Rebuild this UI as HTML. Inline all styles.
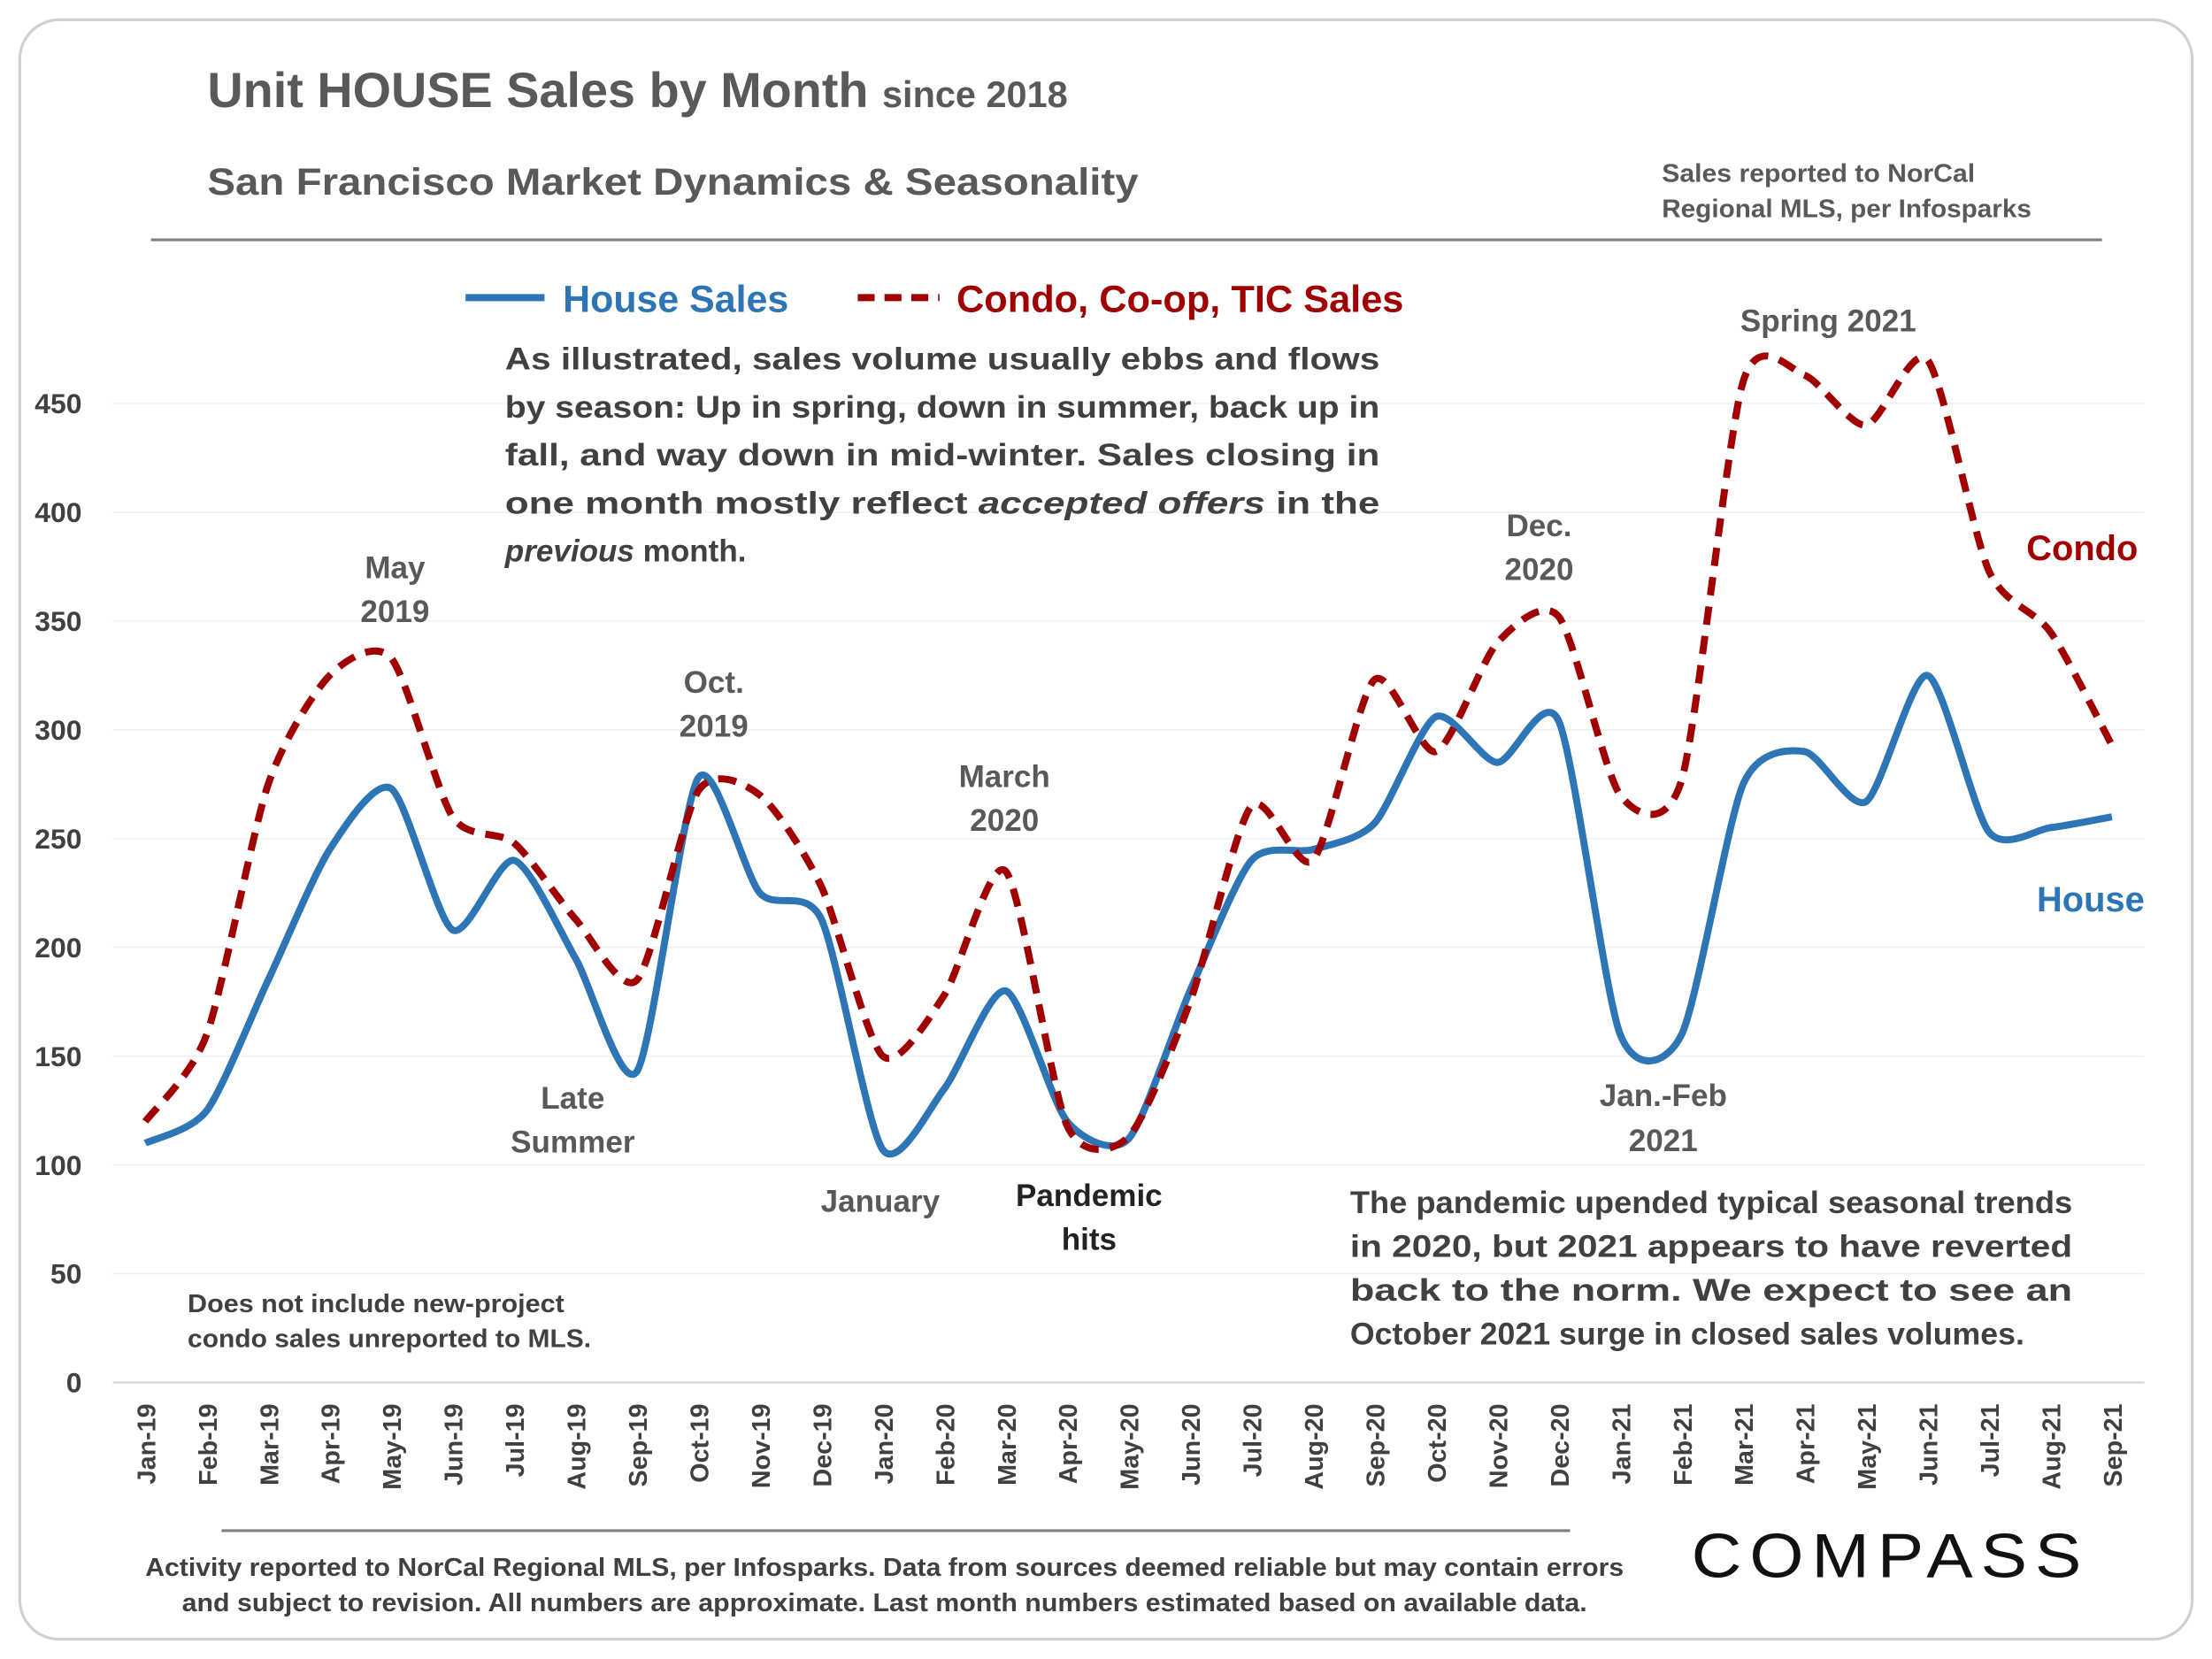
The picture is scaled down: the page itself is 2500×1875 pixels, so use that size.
<!DOCTYPE html>
<html><head><meta charset="utf-8"><style>
html,body{margin:0;padding:0;background:#fff;}
svg{display:block;font-family:"Liberation Sans",Arial,sans-serif;font-weight:bold;}
</style></head><body>
<svg id="chart" width="2500" height="1875" viewBox="0 0 1568 1176" xmlns="http://www.w3.org/2000/svg">
<rect x="14" y="14" width="1540" height="1148" rx="28" fill="#fff" stroke="#d0d0d0" stroke-width="2"/>
<text x="147" y="76" font-size="35" fill="#595959">Unit HOUSE Sales by Month <tspan font-size="26">since 2018</tspan></text>
<text x="147" y="138" font-size="27" fill="#595959" textLength="660" lengthAdjust="spacingAndGlyphs">San Francisco Market Dynamics &amp; Seasonality</text>
<text font-size="18" fill="#595959"><tspan x="1178" y="129" textLength="222" lengthAdjust="spacingAndGlyphs">Sales reported to NorCal</tspan><tspan x="1178" y="154" textLength="262" lengthAdjust="spacingAndGlyphs">Regional MLS, per Infosparks</tspan></text>
<line x1="107" y1="170" x2="1490" y2="170" stroke="#808080" stroke-width="2"/>
<g id="grid"></g>
<g id="yaxis"></g>
<g id="xaxis"></g>
<g>
<line x1="330" y1="211" x2="386" y2="211" stroke="#2e75b6" stroke-width="5"/>
<text x="399" y="221" font-size="27" fill="#2e75b6" textLength="160" lengthAdjust="spacingAndGlyphs">House Sales</text>
<line x1="608" y1="211" x2="666" y2="211" stroke="#a00000" stroke-width="5" stroke-dasharray="12,7"/>
<text x="678" y="221" font-size="27" fill="#a00000" textLength="317" lengthAdjust="spacingAndGlyphs">Condo, Co-op, TIC Sales</text>
</g>
<g font-size="22" fill="#404040">
<text x="358" y="262" textLength="620" lengthAdjust="spacingAndGlyphs">As illustrated, sales volume usually ebbs and flows</text>
<text x="358" y="296" textLength="620" lengthAdjust="spacingAndGlyphs">by season: Up in spring, down in summer, back up in</text>
<text x="358" y="330" textLength="620" lengthAdjust="spacingAndGlyphs">fall, and way down in mid-winter. Sales closing in</text>
<text x="358" y="364" textLength="620" lengthAdjust="spacingAndGlyphs">one month mostly reflect <tspan font-style="italic">accepted offers</tspan> in the</text>
<text x="358" y="398"><tspan font-style="italic">previous</tspan> month.</text>
</g>
<g font-size="22" fill="#404040">
<text x="957" y="860" textLength="512" lengthAdjust="spacingAndGlyphs">The pandemic upended typical seasonal trends</text>
<text x="957" y="891" textLength="512" lengthAdjust="spacingAndGlyphs">in 2020, but 2021 appears to have reverted</text>
<text x="957" y="922" textLength="512" lengthAdjust="spacingAndGlyphs">back to the norm. We expect to see an</text>
<text x="957" y="953" textLength="478" lengthAdjust="spacingAndGlyphs">October 2021 surge in closed sales volumes.</text>
</g>
<g font-size="18" fill="#404040">
<text x="133" y="930" textLength="267" lengthAdjust="spacingAndGlyphs">Does not include new-project</text>
<text x="133" y="955" textLength="286" lengthAdjust="spacingAndGlyphs">condo sales unreported to MLS.</text>
</g>
<g font-size="22" fill="#595959" text-anchor="middle">
<text x="280" y="410">May</text><text x="280" y="441">2019</text>
<text x="506" y="491">Oct.</text><text x="506" y="522">2019</text>
<text x="712" y="558">March</text><text x="712" y="589">2020</text>
<text x="1091" y="380">Dec.</text><text x="1091" y="411">2020</text>
<text x="1296" y="235">Spring 2021</text>
<text x="406" y="786">Late</text><text x="406" y="817">Summer</text>
<text x="624" y="859">January</text>
<text x="772" y="855" fill="#222">Pandemic</text><text x="772" y="886" fill="#222">hits</text>
<text x="1179" y="784">Jan.-Feb</text><text x="1179" y="816">2021</text>
<text x="1476" y="397" fill="#a00000" font-size="25">Condo</text>
<text x="1482" y="646" fill="#2e75b6" font-size="25">House</text>
</g>
<g id="series"></g>
<line x1="157" y1="1085" x2="1113" y2="1085" stroke="#808080" stroke-width="2"/>
<g font-size="18" fill="#404040" text-anchor="middle">
<text x="627" y="1117" textLength="1048" lengthAdjust="spacingAndGlyphs">Activity reported to NorCal Regional MLS, per Infosparks. Data from sources deemed reliable but may contain errors</text>
<text x="627" y="1142" textLength="996" lengthAdjust="spacingAndGlyphs">and subject to revision. All numbers are approximate. Last month numbers estimated based on available data.</text>
</g>
<text x="1340" y="1118" font-size="44" font-weight="normal" fill="#111" text-anchor="middle" letter-spacing="5" textLength="282" lengthAdjust="spacingAndGlyphs">COMPASS</text>
</svg>
<script>
const months=["Jan-19","Feb-19","Mar-19","Apr-19","May-19","Jun-19","Jul-19","Aug-19","Sep-19","Oct-19","Nov-19","Dec-19","Jan-20","Feb-20","Mar-20","Apr-20","May-20","Jun-20","Jul-20","Aug-20","Sep-20","Oct-20","Nov-20","Dec-20","Jan-21","Feb-21","Mar-21","Apr-21","May-21","Jun-21","Jul-21","Aug-21","Sep-21"];
const houseSales=[110,125,185,245,273,208,240,195,143,278,225,213,107,135,180,120,112,180,240,245,257,306,285,304,160,160,275,290,267,325,253,255,260];
const condoSales=[120,160,275,325,333,260,248,213,185,272,270,228,150,178,235,118,113,175,265,240,323,290,340,352,270,277,460,463,440,470,373,345,293];
const yTicks=[0,50,100,150,200,250,300,350,400,450];
const NS="http://www.w3.org/2000/svg";
const X0=103,X1=1497,Y0=980,Y450=286;
function xs(i){return X0+(X1-X0)*i/(months.length-1);}
function ys(v){return Y0-(Y0-Y450)*v/450;}
const grid=document.getElementById('grid'),yaxis=document.getElementById('yaxis'),xaxis=document.getElementById('xaxis'),series=document.getElementById('series');
yTicks.forEach(t=>{
  if(t>0){const g=document.createElementNS(NS,'line');
  
  
  g.setAttribute('x1',80);g.setAttribute('x2',1520);g.setAttribute('y1',ys(t));g.setAttribute('y2',ys(t));g.setAttribute('stroke','#f0f0f0');g.setAttribute('stroke-width','1');grid.appendChild(g);}
  const l=document.createElementNS(NS,'text');
  
  
  l.setAttribute('x',58);l.setAttribute('y',ys(t)+7);l.setAttribute('text-anchor','end');l.setAttribute('font-size','20');l.setAttribute('fill','#404040');l.textContent=t;yaxis.appendChild(l);
});
const ax=document.createElementNS(NS,'line');


ax.setAttribute('x1',80);ax.setAttribute('x2',1520);ax.setAttribute('y1',Y0);ax.setAttribute('y2',Y0);ax.setAttribute('stroke','#d9d9d9');ax.setAttribute('stroke-width','1.5');xaxis.appendChild(ax);
months.forEach((m,i)=>{
  const t=document.createElementNS(NS,'text');
  
  
  const x=xs(i)+7,y=995;
  t.setAttribute('transform','translate('+x+','+y+') rotate(-90)');t.setAttribute('text-anchor','end');t.setAttribute('font-size','18');t.setAttribute('fill','#404040');t.textContent=m;xaxis.appendChild(t);
});
function smooth(vals){
  const p=vals.map((v,i)=>[xs(i),ys(v)]);let d='M'+p[0][0]+','+p[0][1];
  const k=8;
  for(let i=0;i<p.length-1;i++){const a=p[Math.max(0,i-1)],b=p[i],c=p[i+1],e=p[Math.min(p.length-1,i+2)];
    const c1=[b[0]+(c[0]-a[0])/k,b[1]+(c[1]-a[1])/k],c2=[c[0]-(e[0]-b[0])/k,c[1]-(e[1]-b[1])/k];
    d+=' C'+c1[0]+','+c1[1]+' '+c2[0]+','+c2[1]+' '+c[0]+','+c[1];}
  return d;}
const hp=document.createElementNS(NS,'path');


hp.setAttribute('d',smooth(houseSales));hp.setAttribute('fill','none');hp.setAttribute('stroke','#2e75b6');hp.setAttribute('stroke-width','5');series.appendChild(hp);
const cp=document.createElementNS(NS,'path');


cp.setAttribute('d',smooth(condoSales));cp.setAttribute('fill','none');cp.setAttribute('stroke','#a00000');cp.setAttribute('stroke-width','5');cp.setAttribute('stroke-dasharray','13,8');series.appendChild(cp);
</script>
</body></html>
